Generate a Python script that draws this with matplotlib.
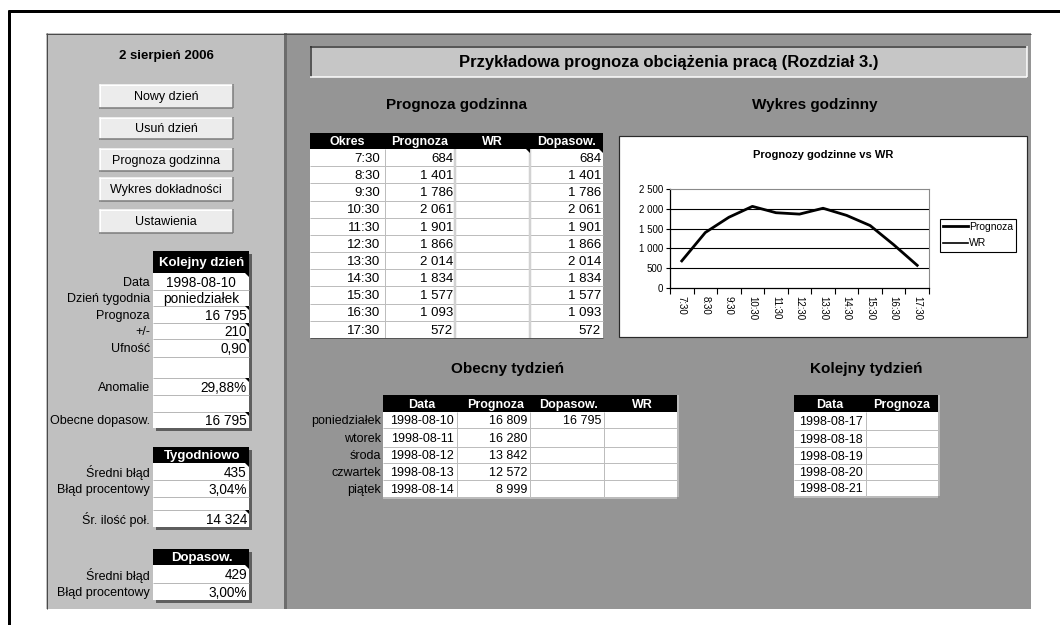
import numpy as np
import matplotlib
matplotlib.use('Agg')
import matplotlib.pyplot as plt
from matplotlib.patches import Rectangle, Polygon
from matplotlib.ticker import FuncFormatter, FixedLocator

plt.rcParams['font.family'] = ['Liberation Sans', 'DejaVu Sans']

# ---------------- DATA ----------------
report_date = '2 sierpień 2006'
main_title = 'Przykładowa prognoza obciążenia pracą (Rozdział 3.)'
buttons = ['Nowy dzień', 'Usuń dzień', 'Prognoza godzinna', 'Wykres dokładności', 'Ustawienia']

next_day_labels = ['Data', 'Dzień tygodnia', 'Prognoza', '+/-', 'Ufność', '', 'Anomalie', '', 'Obecne dopasow.']
next_day_values = ['1998-08-10', 'poniedziałek', '16 795', '210', '0,90', '', '29,88%', '', '16 795']

weekly_labels = ['Średni błąd', 'Błąd procentowy', '', 'Śr. ilość poł.']
weekly_values = ['435', '3,04%', '', '14 324']

fit_labels = ['Średni błąd', 'Błąd procentowy']
fit_values = ['429', '3,00%']

hours = ['7:30', '8:30', '9:30', '10:30', '11:30', '12:30', '13:30', '14:30', '15:30', '16:30', '17:30']
hourly_forecast = [684, 1401, 1786, 2061, 1901, 1866, 2014, 1834, 1577, 1093, 572]
hourly_wr = [np.nan] * 11
hourly_adjusted = [684, 1401, 1786, 2061, 1901, 1866, 2014, 1834, 1577, 1093, 572]

week_days = ['poniedziałek', 'wtorek', 'środa', 'czwartek', 'piątek']
week_dates = ['1998-08-10', '1998-08-11', '1998-08-12', '1998-08-13', '1998-08-14']
week_forecast = [16809, 16280, 13842, 12572, 8999]
week_adjusted = [16795, None, None, None, None]

next_week_dates = ['1998-08-17', '1998-08-18', '1998-08-19', '1998-08-20', '1998-08-21']
next_week_forecast = [None, None, None, None, None]


def fmt(v):
    if v is None or (isinstance(v, float) and np.isnan(v)):
        return ''
    return f'{int(v):,}'.replace(',', '\u00a0')


# ---------------- LAYOUT ----------------
W, H = 1060, 625
fig = plt.figure(figsize=(W / 100, H / 100), dpi=100)
fig.patch.set_facecolor('white')
bg = fig.add_axes([0, 0, 1, 1])
bg.set_xlim(0, W)
bg.set_ylim(H, 0)
bg.axis('off')

PX = 0.72  # 1 pixel in points
DY = 1.2   # small downward text offset (pixels)


def rect(x0, y0, x1, y1, fc, ec='none', lw=0, z=1):
    bg.add_patch(Rectangle((x0, y0), x1 - x0, y1 - y0, facecolor=fc,
                           edgecolor=ec, linewidth=lw * PX, zorder=z))


def hline(y, x0, x1, color, lw=1, z=3):
    bg.plot([x0, x1], [y, y], color=color, lw=lw * PX, zorder=z, solid_capstyle='butt')


def vline(x, y0, y1, color, lw=1, z=3):
    bg.plot([x, x], [y0, y1], color=color, lw=lw * PX, zorder=z, solid_capstyle='butt')


def txt(x, y, s, size, ha='left', weight='normal', color='black', z=6):
    bg.text(x, y + DY, s, fontsize=size, ha=ha, va='center', fontweight=weight,
            color=color, zorder=z)


def corner(x, y, s=4):
    bg.add_patch(Polygon([(x - s, y), (x, y), (x, y + s)], closed=True,
                         facecolor='black', edgecolor='none', zorder=7))


# outer frame
hline(11, 8, W, 'black', 3, z=2)
vline(9, 10, H, 'black', 3, z=2)

# sheet areas
rect(46, 33, 284, 609, '#c0c0c0')
rect(284, 33, 287, 609, '#6c6c6c')
rect(287, 33, 1031, 609, '#959595')
hline(33.5, 46, 1031, '#4a4a4a', 1, z=2)
vline(46.5, 33, 609, '#4a4a4a', 1, z=2)

# title box
rect(310, 46, 1027, 77, '#c6c6c6', z=2)
hline(46.5, 310, 1027, '#333333', 1.5)
vline(310.5, 46, 77, '#333333', 1.5)
hline(77, 310, 1027, 'white', 1.5)
vline(1027, 46, 77, 'white', 1.5)
txt(668.5, 61, main_title, 12, ha='center', weight='bold')

# ---------------- LEFT PANEL ----------------
txt(166, 55, report_date, 9.5, ha='center', weight='bold')
button_rows = [(84, 108), (117, 139), (148, 171), (177, 201), (209, 233)]
for (y0, y1), label in zip(button_rows, buttons):
    rect(99, y0, 233, y1, '#ececec', z=2)
    hline(y0 + 0.5, 99, 233, 'white', 1)
    vline(99.5, y0, y1, 'white', 1)
    hline(y1 - 0.5, 99, 233, '#7a7a7a', 1.5)
    vline(232.5, y0, y1, '#7a7a7a', 1.5)
    txt(166, (y0 + y1) / 2, label, 9, ha='center')


def side_table(title, hy0, bounds, labels, values, centered=(), corners=()):
    x0, x1 = 153, 249
    rect(x0 + 3, hy0 + 3, x1 + 3, bounds[-1] + 3, '#5e5e5e', z=2)
    rect(x0, hy0, x1, bounds[0], 'black', z=3)
    txt((x0 + x1) / 2 + 1, (hy0 + bounds[0]) / 2, title, 9.5, ha='center',
        weight='bold', color='white')
    rect(x0, bounds[0], x1, bounds[-1], 'white', z=3)
    for b in bounds[1:-1]:
        hline(b, x0, x1, '#b8b8b8', 1, z=4)
    for i, (lab, val) in enumerate(zip(labels, values)):
        yc = (bounds[i] + bounds[i + 1]) / 2
        if lab:
            txt(150, yc, lab, 9, ha='right')
        if val:
            if i in centered:
                txt((x0 + x1) / 2, yc, val, 9.8, ha='center')
            else:
                txt(x1 - 2, yc, val, 9.8, ha='right')
    for i in corners:
        corner(x1, bounds[i])


side_table('Kolejny dzień', 251, [273, 290, 306, 323, 339, 357, 378, 395, 412, 428],
           next_day_labels, next_day_values, centered=(0, 1), corners=(0, 2, 3, 4, 6, 8))
side_table('Tygodniowo', 447, [463, 480, 497, 510, 527],
           weekly_labels, weekly_values, corners=(0, 3))
side_table('Dopasow.', 549, [565, 583, 600], fit_labels, fit_values, corners=(0,))

# ---------------- SUBTITLES ----------------
txt(456, 104, 'Prognoza godzinna', 11, ha='center', weight='bold')
txt(815, 104, 'Wykres godzinny', 11, ha='center', weight='bold')
txt(508, 368, 'Obecny tydzień', 11, ha='center', weight='bold')
txt(866, 368, 'Kolejny tydzień', 11, ha='center', weight='bold')

# ---------------- HOURLY TABLE ----------------
hc = [310, 385, 455, 530, 603]
hy0, hy1 = 133, 149
n = len(hours)
rows_b = [hy1 + (338 - hy1) * i / n for i in range(n + 1)]
rect(hc[0], hy0, hc[-1], hy1, 'black', z=3)
rect(hc[0], hy1, hc[-1], rows_b[-1], 'white', z=3)
for b in rows_b[1:-1]:
    hline(b, hc[0], hc[-1], '#bdbdbd', 1, z=4)
vline(hc[1], hy1, rows_b[-1], '#bdbdbd', 1, z=4)
vline(hc[2], hy1, rows_b[-1], '#d2d2d2', 2.5, z=4)
vline(hc[3], hy1, rows_b[-1], '#d2d2d2', 2.5, z=4)
hline(rows_b[-1], hc[0], hc[-1], '#555555', 1, z=4)
for name, c0, c1 in zip(['Okres', 'Prognoza', 'WR', 'Dopasow.'], hc[:-1], hc[1:]):
    txt((c0 + c1) / 2, (hy0 + hy1) / 2, name, 9, ha='center', weight='bold', color='white')
for i in range(n):
    yc = (rows_b[i] + rows_b[i + 1]) / 2
    txt(380, yc, hours[i], 9.5, ha='right')
    txt(453, yc, fmt(hourly_forecast[i]), 9.5, ha='right')
    txt(528, yc, fmt(hourly_wr[i]), 9.5, ha='right')
    txt(601, yc, fmt(hourly_adjusted[i]), 9.5, ha='right')
corner(hc[3], hy1)
corner(hc[4], hy1)

# ---------------- CURRENT WEEK TABLE ----------------
wc = [383, 457, 530, 604, 677]
wy0, wy1 = 395, 412
wb = [412, 428, 447, 463, 480, 497]
rect(wc[0], wy0, wc[-1], wy1, 'black', z=3)
rect(wc[0], wy1, wc[-1], wb[-1], 'white', z=3)
for b in wb[1:-1]:
    hline(b, wc[0], wc[-1], '#bdbdbd', 1, z=4)
for c in wc[1:-1]:
    vline(c, wy1, wb[-1], '#bdbdbd', 1, z=4)
vline(wc[-1] + 1, wy0, wb[-1], '#c8c8c8', 1.5, z=4)
hline(wb[-1] + 0.5, wc[0], wc[-1], '#c8c8c8', 1.5, z=4)
for name, c0, c1 in zip(['Data', 'Prognoza', 'Dopasow.', 'WR'], wc[:-1], wc[1:]):
    txt((c0 + c1) / 2 + 2, (wy0 + wy1) / 2, name, 9, ha='center', weight='bold', color='white')
for i in range(len(week_days)):
    yc = (wb[i] + wb[i + 1]) / 2
    txt(381, yc, week_days[i], 9, ha='right')
    txt(454, yc, week_dates[i], 9, ha='right')
    txt(527, yc, fmt(week_forecast[i]), 9, ha='right')
    txt(601, yc, fmt(week_adjusted[i]), 9, ha='right')

# ---------------- NEXT WEEK TABLE ----------------
nc = [794, 866, 938]
nb = [412, 430, 447, 464, 480, 496]
rect(nc[0], wy0, nc[-1], wy1, 'black', z=3)
rect(nc[0], wy1, nc[-1], nb[-1], 'white', z=3)
for b in nb[1:-1]:
    hline(b, nc[0], nc[-1], '#bdbdbd', 1, z=4)
vline(nc[1], wy1, nb[-1], '#bdbdbd', 1, z=4)
vline(nc[-1] + 1, wy0, nb[-1], '#c8c8c8', 1.5, z=4)
hline(nb[-1] + 0.5, nc[0], nc[-1], '#c8c8c8', 1.5, z=4)
for name, c0, c1 in zip(['Data', 'Prognoza'], nc[:-1], nc[1:]):
    txt((c0 + c1) / 2, (wy0 + wy1) / 2, name, 9, ha='center', weight='bold', color='white')
for i in range(len(next_week_dates)):
    yc = (nb[i] + nb[i + 1]) / 2
    txt(863, yc, next_week_dates[i], 9, ha='right')
    txt(935, yc, fmt(next_week_forecast[i]), 9, ha='right')

# ---------------- CHART ----------------
rect(619, 136, 1027, 337, 'white', ec='#2a2a2a', lw=1.2, z=3)
txt(823, 154, 'Prognozy godzinne vs WR', 8, ha='center', weight='bold')

ax = fig.add_axes([670 / W, 1 - 288 / H, 259 / W, 99 / H])
ax.set_facecolor('white')
xpos = np.arange(len(hours))
l1, = ax.plot(xpos, hourly_forecast, color='black', lw=2.0, solid_joinstyle='round', label='Prognoza')
l2, = ax.plot(xpos, hourly_wr, color='black', lw=1.2, label='WR')
ax.set_xlim(-0.5, len(hours) - 0.5)
ax.set_ylim(0, 2500)
yt = [0, 500, 1000, 1500, 2000, 2500]
ax.set_yticks(yt)
ax.yaxis.set_major_formatter(FuncFormatter(lambda v, p: fmt(v)))
for v in yt[1:-1]:
    ax.axhline(v, color='black', lw=0.8, zorder=1)
ax.set_xticks(xpos)
ax.set_xticklabels(hours, rotation=-90, fontsize=7)
ax.xaxis.set_minor_locator(FixedLocator(np.arange(-0.5, len(hours), 1.0)))
ax.tick_params(axis='x', which='major', length=0, pad=6)
ax.tick_params(axis='x', which='minor', length=4, width=0.8, direction='out', color='black')
ax.tick_params(axis='y', length=3, width=0.8, pad=2, labelsize=7, direction='out')
for s in ['top', 'right']:
    ax.spines[s].set_color('#8a8a8a')
    ax.spines[s].set_linewidth(0.8)
for s in ['left', 'bottom']:
    ax.spines[s].set_color('black')
    ax.spines[s].set_linewidth(0.9)

leg = ax.legend(handles=[l1, l2], labels=['Prognoza', 'WR'], loc='upper left',
                bbox_to_anchor=(940 / W, 1 - 219 / H), bbox_transform=fig.transFigure,
                fontsize=7.5, frameon=True, fancybox=False, framealpha=1,
                edgecolor='black', borderpad=0.3, borderaxespad=0, handlelength=2.4,
                handletextpad=0.1, labelspacing=0.6)
leg.get_frame().set_linewidth(0.8)

fig.savefig('out.png', dpi=100, facecolor='white')
